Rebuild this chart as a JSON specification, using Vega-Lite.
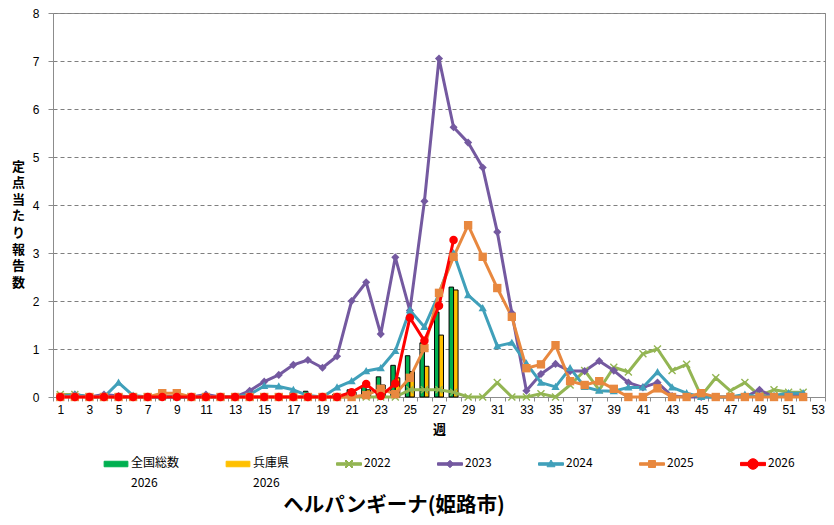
{
  "$schema": "https://vega.github.io/schema/vega-lite/v6.json",
  "width": 772,
  "height": 384,
  "autosize": "none",
  "padding": {"left": 53, "top": 13, "right": 9, "bottom": 128},
  "background": "white",
  "view": {"stroke": "#8c8c8c", "strokeWidth": 1},
  "title": {
    "text": "ヘルパンギーナ(姫路市)",
    "orient": "bottom",
    "anchor": "middle",
    "dx": -45,
    "offset": 7,
    "font": "Noto Sans CJK JP",
    "fontSize": 20.5,
    "fontWeight": "bold",
    "color": "#000000"
  },
  "datasets": {
    "bars": [
      {"week": 18, "series": "全国総数 2026", "value": 0.12},
      {"week": 19, "series": "全国総数 2026", "value": 0.03},
      {"week": 20, "series": "全国総数 2026", "value": 0.05},
      {"week": 21, "series": "全国総数 2026", "value": 0.15},
      {"week": 22, "series": "全国総数 2026", "value": 0.22},
      {"week": 23, "series": "全国総数 2026", "value": 0.42},
      {"week": 24, "series": "全国総数 2026", "value": 0.66},
      {"week": 25, "series": "全国総数 2026", "value": 0.86},
      {"week": 26, "series": "全国総数 2026", "value": 1.13},
      {"week": 27, "series": "全国総数 2026", "value": 1.77},
      {"week": 28, "series": "全国総数 2026", "value": 2.29},
      {"week": 21, "series": "兵庫県 2026", "value": 0.1},
      {"week": 22, "series": "兵庫県 2026", "value": 0.15},
      {"week": 23, "series": "兵庫県 2026", "value": 0.25},
      {"week": 24, "series": "兵庫県 2026", "value": 0.4},
      {"week": 25, "series": "兵庫県 2026", "value": 0.53},
      {"week": 26, "series": "兵庫県 2026", "value": 0.64},
      {"week": 27, "series": "兵庫県 2026", "value": 1.29},
      {"week": 28, "series": "兵庫県 2026", "value": 2.23}
    ],
    "lines": [
      {"week": 1, "series": "2022", "value": 0.05}, {"week": 2, "series": "2022", "value": 0.05},
      {"week": 3, "series": "2022", "value": 0}, {"week": 4, "series": "2022", "value": 0},
      {"week": 5, "series": "2022", "value": 0}, {"week": 6, "series": "2022", "value": 0},
      {"week": 7, "series": "2022", "value": 0}, {"week": 8, "series": "2022", "value": 0},
      {"week": 9, "series": "2022", "value": 0}, {"week": 10, "series": "2022", "value": 0},
      {"week": 11, "series": "2022", "value": 0}, {"week": 12, "series": "2022", "value": 0},
      {"week": 13, "series": "2022", "value": 0}, {"week": 14, "series": "2022", "value": 0},
      {"week": 15, "series": "2022", "value": 0}, {"week": 16, "series": "2022", "value": 0},
      {"week": 17, "series": "2022", "value": 0}, {"week": 18, "series": "2022", "value": 0},
      {"week": 19, "series": "2022", "value": 0}, {"week": 20, "series": "2022", "value": 0},
      {"week": 21, "series": "2022", "value": 0}, {"week": 22, "series": "2022", "value": 0},
      {"week": 23, "series": "2022", "value": 0}, {"week": 24, "series": "2022", "value": 0},
      {"week": 25, "series": "2022", "value": 0.15}, {"week": 26, "series": "2022", "value": 0.15},
      {"week": 27, "series": "2022", "value": 0.15}, {"week": 28, "series": "2022", "value": 0.1},
      {"week": 29, "series": "2022", "value": 0}, {"week": 30, "series": "2022", "value": 0},
      {"week": 31, "series": "2022", "value": 0.3}, {"week": 32, "series": "2022", "value": 0},
      {"week": 33, "series": "2022", "value": 0}, {"week": 34, "series": "2022", "value": 0.07},
      {"week": 35, "series": "2022", "value": 0}, {"week": 36, "series": "2022", "value": 0.25},
      {"week": 37, "series": "2022", "value": 0.55}, {"week": 38, "series": "2022", "value": 0.15},
      {"week": 39, "series": "2022", "value": 0.62}, {"week": 40, "series": "2022", "value": 0.52},
      {"week": 41, "series": "2022", "value": 0.9}, {"week": 42, "series": "2022", "value": 1.0},
      {"week": 43, "series": "2022", "value": 0.55}, {"week": 44, "series": "2022", "value": 0.68},
      {"week": 45, "series": "2022", "value": 0.02}, {"week": 46, "series": "2022", "value": 0.4},
      {"week": 47, "series": "2022", "value": 0.13}, {"week": 48, "series": "2022", "value": 0.3},
      {"week": 49, "series": "2022", "value": 0.03}, {"week": 50, "series": "2022", "value": 0.15},
      {"week": 51, "series": "2022", "value": 0.1}, {"week": 52, "series": "2022", "value": 0.1},

      {"week": 1, "series": "2023", "value": 0}, {"week": 2, "series": "2023", "value": 0.05},
      {"week": 3, "series": "2023", "value": 0}, {"week": 4, "series": "2023", "value": 0.05},
      {"week": 5, "series": "2023", "value": 0.02}, {"week": 6, "series": "2023", "value": 0},
      {"week": 7, "series": "2023", "value": 0}, {"week": 8, "series": "2023", "value": 0},
      {"week": 9, "series": "2023", "value": 0}, {"week": 10, "series": "2023", "value": 0},
      {"week": 11, "series": "2023", "value": 0.05}, {"week": 12, "series": "2023", "value": 0},
      {"week": 13, "series": "2023", "value": 0}, {"week": 14, "series": "2023", "value": 0.13},
      {"week": 15, "series": "2023", "value": 0.32}, {"week": 16, "series": "2023", "value": 0.46},
      {"week": 17, "series": "2023", "value": 0.67}, {"week": 18, "series": "2023", "value": 0.77},
      {"week": 19, "series": "2023", "value": 0.61}, {"week": 20, "series": "2023", "value": 0.85},
      {"week": 21, "series": "2023", "value": 2.0}, {"week": 22, "series": "2023", "value": 2.39},
      {"week": 23, "series": "2023", "value": 1.31}, {"week": 24, "series": "2023", "value": 2.91},
      {"week": 25, "series": "2023", "value": 1.8}, {"week": 26, "series": "2023", "value": 4.08},
      {"week": 27, "series": "2023", "value": 7.05}, {"week": 28, "series": "2023", "value": 5.62},
      {"week": 29, "series": "2023", "value": 5.3}, {"week": 30, "series": "2023", "value": 4.78},
      {"week": 31, "series": "2023", "value": 3.44}, {"week": 32, "series": "2023", "value": 1.75},
      {"week": 33, "series": "2023", "value": 0.13}, {"week": 34, "series": "2023", "value": 0.48},
      {"week": 35, "series": "2023", "value": 0.69}, {"week": 36, "series": "2023", "value": 0.54},
      {"week": 37, "series": "2023", "value": 0.54}, {"week": 38, "series": "2023", "value": 0.75},
      {"week": 39, "series": "2023", "value": 0.55}, {"week": 40, "series": "2023", "value": 0.3},
      {"week": 41, "series": "2023", "value": 0.2}, {"week": 42, "series": "2023", "value": 0.3},
      {"week": 43, "series": "2023", "value": 0.02}, {"week": 44, "series": "2023", "value": 0},
      {"week": 45, "series": "2023", "value": 0}, {"week": 46, "series": "2023", "value": 0},
      {"week": 47, "series": "2023", "value": 0}, {"week": 48, "series": "2023", "value": 0},
      {"week": 49, "series": "2023", "value": 0.15}, {"week": 50, "series": "2023", "value": 0},
      {"week": 51, "series": "2023", "value": 0.05}, {"week": 52, "series": "2023", "value": 0.05},

      {"week": 1, "series": "2024", "value": 0}, {"week": 2, "series": "2024", "value": 0.05},
      {"week": 3, "series": "2024", "value": 0}, {"week": 4, "series": "2024", "value": 0},
      {"week": 5, "series": "2024", "value": 0.3}, {"week": 6, "series": "2024", "value": 0.03},
      {"week": 7, "series": "2024", "value": 0}, {"week": 8, "series": "2024", "value": 0},
      {"week": 9, "series": "2024", "value": 0}, {"week": 10, "series": "2024", "value": 0},
      {"week": 11, "series": "2024", "value": 0}, {"week": 12, "series": "2024", "value": 0},
      {"week": 13, "series": "2024", "value": 0}, {"week": 14, "series": "2024", "value": 0.05},
      {"week": 15, "series": "2024", "value": 0.23}, {"week": 16, "series": "2024", "value": 0.22},
      {"week": 17, "series": "2024", "value": 0.15}, {"week": 18, "series": "2024", "value": 0.03},
      {"week": 19, "series": "2024", "value": 0}, {"week": 20, "series": "2024", "value": 0.2},
      {"week": 21, "series": "2024", "value": 0.33}, {"week": 22, "series": "2024", "value": 0.54},
      {"week": 23, "series": "2024", "value": 0.6}, {"week": 24, "series": "2024", "value": 0.96},
      {"week": 25, "series": "2024", "value": 1.81}, {"week": 26, "series": "2024", "value": 1.46},
      {"week": 27, "series": "2024", "value": 2.15}, {"week": 28, "series": "2024", "value": 3.0},
      {"week": 29, "series": "2024", "value": 2.12}, {"week": 30, "series": "2024", "value": 1.85},
      {"week": 31, "series": "2024", "value": 1.06}, {"week": 32, "series": "2024", "value": 1.13},
      {"week": 33, "series": "2024", "value": 0.7}, {"week": 34, "series": "2024", "value": 0.3},
      {"week": 35, "series": "2024", "value": 0.21}, {"week": 36, "series": "2024", "value": 0.6},
      {"week": 37, "series": "2024", "value": 0.21}, {"week": 38, "series": "2024", "value": 0.13},
      {"week": 39, "series": "2024", "value": 0.12}, {"week": 40, "series": "2024", "value": 0.2},
      {"week": 41, "series": "2024", "value": 0.2}, {"week": 42, "series": "2024", "value": 0.52},
      {"week": 43, "series": "2024", "value": 0.2}, {"week": 44, "series": "2024", "value": 0.08},
      {"week": 45, "series": "2024", "value": 0}, {"week": 46, "series": "2024", "value": 0},
      {"week": 47, "series": "2024", "value": 0}, {"week": 48, "series": "2024", "value": 0.05},
      {"week": 49, "series": "2024", "value": 0}, {"week": 50, "series": "2024", "value": 0.03},
      {"week": 51, "series": "2024", "value": 0.08}, {"week": 52, "series": "2024", "value": 0.08},

      {"week": 1, "series": "2025", "value": 0}, {"week": 2, "series": "2025", "value": 0},
      {"week": 3, "series": "2025", "value": 0}, {"week": 4, "series": "2025", "value": 0},
      {"week": 5, "series": "2025", "value": 0}, {"week": 6, "series": "2025", "value": 0},
      {"week": 7, "series": "2025", "value": 0}, {"week": 8, "series": "2025", "value": 0.08},
      {"week": 9, "series": "2025", "value": 0.08}, {"week": 10, "series": "2025", "value": 0},
      {"week": 11, "series": "2025", "value": 0}, {"week": 12, "series": "2025", "value": 0},
      {"week": 13, "series": "2025", "value": 0}, {"week": 14, "series": "2025", "value": 0},
      {"week": 15, "series": "2025", "value": 0}, {"week": 16, "series": "2025", "value": 0},
      {"week": 17, "series": "2025", "value": 0}, {"week": 18, "series": "2025", "value": 0},
      {"week": 19, "series": "2025", "value": 0}, {"week": 20, "series": "2025", "value": 0},
      {"week": 21, "series": "2025", "value": 0}, {"week": 22, "series": "2025", "value": 0.04},
      {"week": 23, "series": "2025", "value": 0.17}, {"week": 24, "series": "2025", "value": 0.06},
      {"week": 25, "series": "2025", "value": 0.4}, {"week": 26, "series": "2025", "value": 1.02},
      {"week": 27, "series": "2025", "value": 2.17}, {"week": 28, "series": "2025", "value": 2.92},
      {"week": 29, "series": "2025", "value": 3.58}, {"week": 30, "series": "2025", "value": 2.92},
      {"week": 31, "series": "2025", "value": 2.27}, {"week": 32, "series": "2025", "value": 1.67},
      {"week": 33, "series": "2025", "value": 0.6}, {"week": 34, "series": "2025", "value": 0.68},
      {"week": 35, "series": "2025", "value": 1.08}, {"week": 36, "series": "2025", "value": 0.33},
      {"week": 37, "series": "2025", "value": 0.25}, {"week": 38, "series": "2025", "value": 0.33},
      {"week": 39, "series": "2025", "value": 0.17}, {"week": 40, "series": "2025", "value": 0},
      {"week": 41, "series": "2025", "value": 0}, {"week": 42, "series": "2025", "value": 0.18},
      {"week": 43, "series": "2025", "value": 0}, {"week": 44, "series": "2025", "value": 0},
      {"week": 45, "series": "2025", "value": 0.08}, {"week": 46, "series": "2025", "value": 0},
      {"week": 47, "series": "2025", "value": 0}, {"week": 48, "series": "2025", "value": 0},
      {"week": 49, "series": "2025", "value": 0}, {"week": 50, "series": "2025", "value": 0},
      {"week": 51, "series": "2025", "value": 0}, {"week": 52, "series": "2025", "value": 0},

      {"week": 1, "series": "2026", "value": 0}, {"week": 2, "series": "2026", "value": 0},
      {"week": 3, "series": "2026", "value": 0}, {"week": 4, "series": "2026", "value": 0},
      {"week": 5, "series": "2026", "value": 0}, {"week": 6, "series": "2026", "value": 0},
      {"week": 7, "series": "2026", "value": 0}, {"week": 8, "series": "2026", "value": 0},
      {"week": 9, "series": "2026", "value": 0}, {"week": 10, "series": "2026", "value": 0},
      {"week": 11, "series": "2026", "value": 0}, {"week": 12, "series": "2026", "value": 0},
      {"week": 13, "series": "2026", "value": 0}, {"week": 14, "series": "2026", "value": 0},
      {"week": 15, "series": "2026", "value": 0}, {"week": 16, "series": "2026", "value": 0},
      {"week": 17, "series": "2026", "value": 0}, {"week": 18, "series": "2026", "value": 0},
      {"week": 19, "series": "2026", "value": 0}, {"week": 20, "series": "2026", "value": 0},
      {"week": 21, "series": "2026", "value": 0.1}, {"week": 22, "series": "2026", "value": 0.27},
      {"week": 23, "series": "2026", "value": 0.02}, {"week": 24, "series": "2026", "value": 0.28},
      {"week": 25, "series": "2026", "value": 1.65}, {"week": 26, "series": "2026", "value": 1.17},
      {"week": 27, "series": "2026", "value": 1.9}, {"week": 28, "series": "2026", "value": 3.27}
    ]
  },
  "encoding": {
    "x": {
      "field": "week",
      "type": "ordinal",
      "scale": {
        "domain": [1,2,3,4,5,6,7,8,9,10,11,12,13,14,15,16,17,18,19,20,21,22,23,24,25,26,27,28,29,30,31,32,33,34,35,36,37,38,39,40,41,42,43,44,45,46,47,48,49,50,51,52,53],
        "paddingInner": 0,
        "paddingOuter": 0
      },
      "axis": {
        "title": "週",
        "titleFont": "Noto Sans CJK JP",
        "titleFontSize": 13,
        "titleFontWeight": "bold",
        "titleColor": "#000000",
        "titlePadding": 8,
        "labelExpr": "datum.value % 2 == 1 ? datum.label : ''",
        "labelAngle": 0,
        "labelOverlap": false,
        "labelFont": "Liberation Sans",
        "labelFontSize": 12,
        "labelColor": "#000000",
        "labelPadding": 3,
        "tickBand": "extent",
        "tickSize": 4,
        "tickColor": "#8c8c8c",
        "domainColor": "#8c8c8c",
        "grid": false
      }
    },
    "y": {
      "field": "value",
      "type": "quantitative",
      "scale": {"domain": [0, 8], "nice": false},
      "axis": {
        "values": [0,1,2,3,4,5,6,7,8],
        "title": ["定","点","当","た","り","報","告","数"],
        "titleAngle": 0,
        "titleAlign": "center",
        "titleBaseline": "top",
        "titleX": -35,
        "titleY": 147,
        "titleLineHeight": 16.6,
        "titleFont": "Noto Sans CJK JP",
        "titleFontSize": 13,
        "titleFontWeight": "bold",
        "titleColor": "#000000",
        "labelFont": "Liberation Sans",
        "labelFontSize": 12,
        "labelColor": "#000000",
        "labelPadding": 9,
        "tickSize": 5,
        "tickColor": "#8c8c8c",
        "domainColor": "#8c8c8c",
        "grid": true,
        "gridColor": "#7f7f7f",
        "gridDash": [4, 3],
        "gridWidth": 1
      }
    },
    "color": {
      "field": "series",
      "type": "nominal",
      "scale": {
        "domain": ["全国総数 2026", "兵庫県 2026", "2022", "2023", "2024", "2025", "2026"],
        "range": ["#00b050", "#ffc000", "#93b553", "#7459a0", "#40a0ba", "#e8883f", "#ff0000"]
      },
      "legend": {
        "title": null,
        "orient": "none",
        "legendX": 50,
        "legendY": 438,
        "direction": "horizontal",
        "columns": 7,
        "gridAlign": "none",
        "columnPadding": 44,
        "symbolSize": 625,
        "labelOffset": 2,
        "labelFont": "Noto Sans CJK JP",
        "labelFontSize": 12,
        "labelColor": "#000000",
        "labelBaseline": "top",
        "labelLimit": 200,
        "labelExpr": "datum.value == '全国総数 2026' ? ['全国総数', '2026'] : datum.value == '兵庫県 2026' ? ['兵庫県', '2026'] : datum.label",
        "encode": {
          "labels": {"update": {"dy": {"value": -6}, "lineHeight": {"value": 20}}},
          "symbols": {
            "update": {
              "size": {"value": 625},
              "opacity": {"value": 1},
              "fillOpacity": {"value": 1},
              "strokeWidth": {"value": 1},
              "shape": {"signal": "datum.value == '全国総数 2026' || datum.value == '兵庫県 2026' ? 'M-0.95,-0.22H0.95V0.22H-0.95Z' : datum.value == '2022' ? 'M-1,-0.1H1V0.1H-1Z M-0.32,-0.24L-0.24,-0.32L0.32,0.24L0.24,0.32Z M0.24,-0.32L0.32,-0.24L-0.24,0.32L-0.32,0.24Z' : datum.value == '2023' ? 'M-1,-0.1H1V0.1H-1Z M0,-0.3L0.3,0L0,0.3L-0.3,0Z' : datum.value == '2024' ? 'M-1,-0.1H1V0.1H-1Z M0,-0.32L0.32,0.22H-0.32Z' : datum.value == '2025' ? 'M-1,-0.1H1V0.1H-1Z M-0.28,-0.28H0.28V0.28H-0.28Z' : 'M-1,-0.13H1V0.13H-1Z M-0.42,0A0.42,0.42 0 1,1 0.42,0A0.42,0.42 0 1,1 -0.42,0Z'"},
              "fill": {"signal": "datum.value == '全国総数 2026' ? '#00b050' : datum.value == '兵庫県 2026' ? '#ffc000' : datum.value == '2022' ? '#93b553' : datum.value == '2023' ? '#7459a0' : datum.value == '2024' ? '#40a0ba' : datum.value == '2025' ? '#e8883f' : '#ff0000'"},
              "stroke": {"signal": "datum.value == '全国総数 2026' || datum.value == '兵庫県 2026' ? '#000000' : 'transparent'"}
            }
          }
        }
      }
    }
  },
  "layer": [
    {
      "data": {"name": "bars"},
      "mark": {"type": "bar", "stroke": "#000000", "strokeWidth": 1},
      "encoding": {
        "xOffset": {
          "field": "series",
          "type": "nominal",
          "scale": {"domain": ["全国総数 2026", "兵庫県 2026"], "paddingInner": 0, "paddingOuter": 0.62}
        }
      }
    },
    {
      "data": {"name": "lines"},
      "mark": {"type": "line", "strokeJoin": "round"},
      "encoding": {
        "strokeWidth": {
          "field": "series",
          "type": "nominal",
          "scale": {"domain": ["2022", "2023", "2024", "2025", "2026"], "range": [3, 3, 3, 3, 3.6]},
          "legend": null
        }
      }
    },
    {
      "data": {"name": "lines"},
      "mark": {"type": "point", "filled": true, "opacity": 1},
      "encoding": {
        "shape": {
          "field": "series",
          "type": "nominal",
          "scale": {
            "domain": ["2022", "2023", "2024", "2025", "2026"],
            "range": [
              "M-1,-0.75L-0.75,-1L1,0.75L0.75,1Z M0.75,-1L1,-0.75L-0.75,1L-1,0.75Z",
              "M0,-1L1,0L0,1L-1,0Z",
              "M0,-1L1,0.75H-1Z",
              "square",
              "circle"
            ]
          },
          "legend": null
        },
        "size": {
          "field": "series",
          "type": "nominal",
          "scale": {"domain": ["2022", "2023", "2024", "2025", "2026"], "range": [64, 72, 100, 64, 125]},
          "legend": null
        }
      }
    }
  ]
}
